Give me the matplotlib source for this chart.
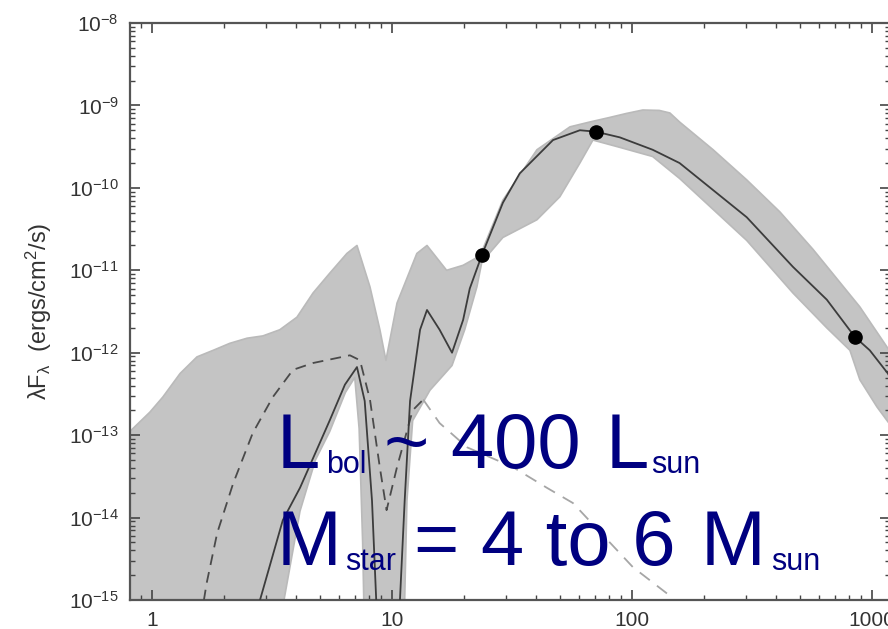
import numpy as np
import matplotlib.pyplot as plt

plt.rcParams['font.family'] = ['Liberation Sans', 'DejaVu Sans']
plt.rcParams['mathtext.fontset'] = 'custom'
plt.rcParams['mathtext.rm'] = 'Liberation Sans'
plt.rcParams['mathtext.it'] = 'Liberation Sans:italic'

# observed fluxes (micron, erg/cm2/s)
obs_wl = [23.7, 70.8, 850]
obs_flux = [1.53e-11, 4.8e-10, 1.55e-12]

# envelope of the grey model fan, upper edge
hi_wl = [0.78, 0.98, 1.11, 1.31, 1.54, 1.80, 2.11, 2.49, 2.90, 3.41, 4.02, 4.69,
         5.52, 6.49, 7.15, 8.1, 8.91, 9.44, 10.5, 12.7, 14.0, 16.9, 19.8, 23.3,
         29.0, 40.2, 55.2, 66.8, 80, 95, 111, 130, 144, 158, 218, 301, 414, 568,
         891, 1200]
hi_flux = [1.0e-13, 1.9e-13, 2.9e-13, 5.6e-13, 8.9e-13, 1.07e-12, 1.3e-12, 1.5e-12,
           1.6e-12, 1.9e-12, 2.7e-12, 5.3e-12, 9.3e-12, 1.6e-11, 2.0e-11, 6.3e-12,
           1.9e-12, 8.1e-13, 4.0e-12, 1.6e-11, 2.0e-11, 1.0e-11, 1.15e-11, 1.5e-11,
           7.1e-11, 2.9e-10, 5.5e-10, 6.3e-10, 7.1e-10, 8.0e-10, 8.8e-10, 8.7e-10,
           8.1e-10, 6.3e-10, 2.9e-10, 1.25e-10, 5.1e-11, 1.8e-11, 3.6e-12, 1.0e-12]

# lower edge
lo_wl = [0.78, 3.2, 3.55, 4.14, 4.8, 5.5, 6.4, 7.0, 7.3, 7.55, 7.75, 11.1, 11.55,
         12.2, 14.4, 17.8, 20.1, 22.6, 23.7, 29.0, 40.2, 50.1, 60.7, 68.8, 89, 122,
         158, 301, 469, 649, 810, 891, 1050, 1200]
lo_flux = [1e-16, 1e-16, 1e-15, 1.2e-14, 5e-14, 1.1e-13, 3.3e-13, 5e-13, 1.2e-13,
           5e-15, 1e-16, 1e-16, 1.6e-14, 1.5e-13, 3.5e-13, 7.0e-13, 1.9e-12, 6.3e-12,
           1.26e-11, 2.5e-11, 4.1e-11, 7.8e-11, 2.0e-10, 3.8e-10, 3.1e-10, 2.4e-10,
           1.3e-10, 2.3e-11, 5.3e-12, 2.0e-12, 1.07e-12, 4.7e-13, 2.2e-13, 1.3e-13]

# best fit model
fit_wl = [2.56, 2.82, 3.51, 4.14, 5.5, 6.37, 7.15, 7.7, 8.26, 8.6, 8.9, 10.5, 10.8,
          11.3, 11.9, 13.1, 14.0, 15.8, 17.8, 19.8, 21.1, 23.7, 29.0, 34.1, 46.9,
          60.7, 70.8, 89, 122, 158, 301, 469, 649, 850, 980, 1166, 1200]
fit_flux = [3e-16, 1e-15, 9.3e-15, 2.3e-14, 1.5e-13, 4.1e-13, 6.7e-13, 2.6e-13,
            1.6e-14, 1e-15, 1e-16, 1e-16, 1e-15, 1.6e-14, 2.6e-13, 1.9e-12, 3.3e-12,
            1.9e-12, 1.0e-12, 2.5e-12, 6.0e-12, 1.53e-11, 6.6e-11, 1.5e-10, 3.8e-10,
            5.0e-10, 4.8e-10, 4.1e-10, 2.9e-10, 2.0e-10, 4.4e-11, 1.1e-11, 4.4e-12,
            1.55e-12, 1.07e-12, 5.6e-13, 4.8e-13]

# stellar photosphere + disk of the best fit (dark dashed)
star_wl = [1.6, 1.69, 1.87, 2.18, 2.63, 3.19, 3.87, 4.69, 6.68, 7.36, 8.1, 8.9, 9.5,
           10.5, 12.2, 13.5]
star_flux = [6e-16, 1.6e-15, 6.5e-15, 2.6e-14, 1.06e-13, 2.9e-13, 6.2e-13, 7.5e-13,
             9.3e-13, 8.1e-13, 2.7e-13, 4.1e-14, 1.23e-14, 4.1e-14, 2.0e-13, 2.7e-13]

# light dashed tail
tail_wl = [13.5, 15.8, 20.6, 31.9, 44.2, 56.8, 101, 140, 174]
tail_flux = [2.7e-13, 1.4e-13, 7.1e-14, 4.1e-14, 2.3e-14, 1.5e-14, 2.5e-15, 1.2e-15,
             6.6e-16]

xtick_vals = [1, 10, 100, 1000]
xtick_text = ['1', '10', '100', '1000']
ytick_exp = [-15, -14, -13, -12, -11, -10, -9, -8]

fig = plt.figure(figsize=(8.88, 6.29), dpi=100)
ax = fig.add_axes([130 / 888, 29 / 629, 760 / 888, 577 / 629])
ax.set_xscale('log')
ax.set_yscale('log')

# grey fan of acceptable models
ax.fill(np.r_[hi_wl, lo_wl[::-1]], np.r_[hi_flux, lo_flux[::-1]],
        facecolor='#c4c4c4', edgecolor='#bababa', lw=1.2, joinstyle='round',
        zorder=1)

ax.plot(tail_wl, tail_flux, color='#a6a6a6', lw=1.3, dashes=(7, 5), zorder=2)
ax.plot(star_wl, star_flux, color='#4a4a4a', lw=1.3, dashes=(6, 4), zorder=3)
ax.plot(fit_wl, fit_flux, color='#3c3c3c', lw=1.3, zorder=4)
ax.plot(obs_wl, obs_flux, 'o', color='black', ms=9.5, zorder=5)

ax.set_xlim(0.81, 1190)
ax.set_ylim(1e-15, 1e-8)
ax.set_xticks(xtick_vals, xtick_text)
ax.set_yticks([10.0 ** e for e in ytick_exp],
              [f'$10^{{{e}}}$' for e in ytick_exp])
ax.tick_params(which='both', direction='in', top=True, right=True,
               color='#444444', labelcolor='#333333', labelsize=15)
ax.tick_params(which='major', length=7, width=1.2, pad=8)
ax.tick_params(which='minor', length=3.5, width=1.0)
for sp in ax.spines.values():
    sp.set_color('#555555')
    sp.set_linewidth(1.6)

ax.set_ylabel(r'λF$_\mathrm{λ}$  (ergs/cm$^2$/s)', fontsize=17, color='#333333')
ax.yaxis.set_label_coords(-0.1, 0.5)

# overlaid annotation
navy = '#000080'
big, small = 56, 22


def put(xpx, ypx, s, size):
    fig.text(xpx / 888, 1 - ypx / 629, s, fontsize=size, color=navy,
             ha='left', va='baseline', zorder=10)


put(277, 468, 'L', big)
put(326, 473, 'bol', small)
put(384, 468, '~ 400', big)
put(606, 468, 'L', big)
put(651, 473, 'sun', small)

put(277, 565, 'M', big)
put(345, 570, 'star', small)
put(414, 565, '= 4 to 6', big)
put(701, 565, 'M', big)
put(771, 570, 'sun', small)

fig.savefig('out.png', dpi=100)
